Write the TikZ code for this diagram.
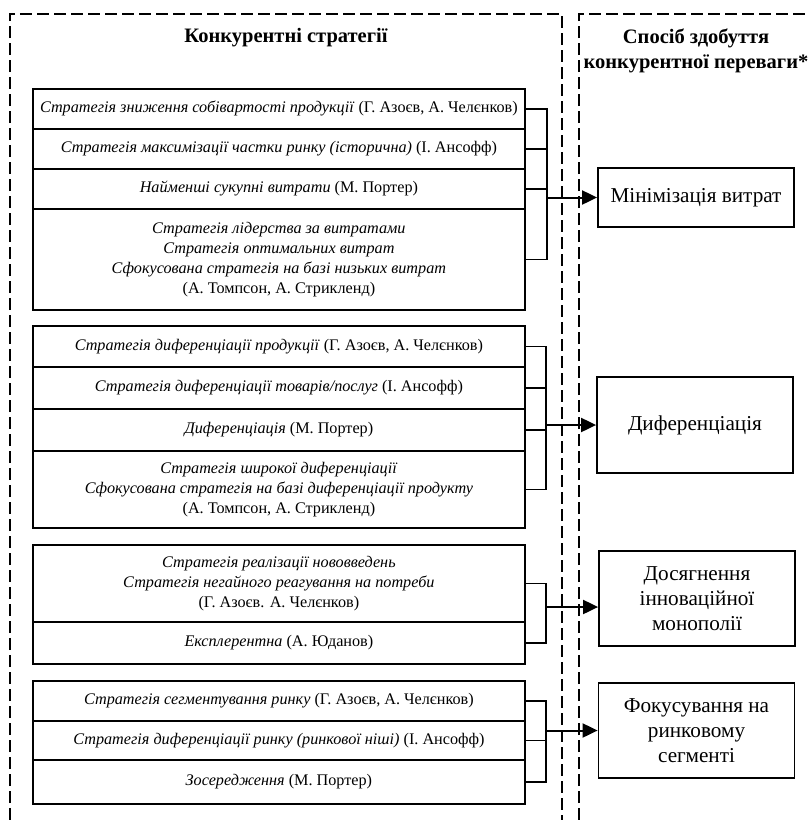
\documentclass[tikz,border=0pt]{standalone}
\usepackage{fontspec}
\setmainfont{Liberation Serif}
\usepackage{tikz}
\usetikzlibrary{positioning}
\usetikzlibrary{arrows.meta}
\usetikzlibrary{calc}
\tikzstyle{rowbox}=[draw,line width=1.8pt,rectangle,anchor=north west,minimum width=492pt,inner sep=0pt,align=center,font=\fontsize{16.2}{20}\selectfont]
\tikzstyle{goalbox}=[draw,line width=1.8pt,rectangle,minimum width=196pt,inner sep=0pt,align=center,font=\fontsize{21.2}{25}\selectfont]
\tikzstyle{title} = [font=\fontsize{20.5}{25}\selectfont\bfseries,align=center]
\tikzstyle{frameline} = [draw,line width=1.3pt,dash pattern=on 12pt off 5pt]
\tikzstyle{bracket} = [draw,line width=1.4pt]
\tikzstyle{goalarrow} = [draw,line width=2pt,-{Triangle[length=15pt,width=14pt]}]

\begin{document}
\begin{tikzpicture}[x=1pt,y=-1pt]
 \useasboundingbox (0,0) rectangle (807,820);

     % dashed frames
     \path[frameline] (10,820) -- (10,14) -- (562,14) -- (562,820);
     \path[frameline] (579,820) -- (579,14) -- (807,14);

     \node[title] (lefttitle) at (286,38) {Конкурентні стратегії};
     \node[title] (righttitle) at (696,51) {Спосіб здобуття\\конкурентної переваги*};

     % strategies
     \foreach \top/\h/\name/\label in {
        {88/40/r11/{\textit{Стратегія зниження собівартості продукції} (Г. Азоєв, А. Челєнков)}},
        {128/40/r12/{\textit{Стратегія максимізації частки ринку (історична)} (І. Ансофф)}},
        {168/40/r13/{\textit{Найменші сукупні витрати} (М. Портер)}},
        {208/101/r14/{\textit{Стратегія лідерства за витратами}\\\textit{Стратегія оптимальних витрат}\\\textit{Сфокусована стратегія на базі низьких витрат}\\(А. Томпсон, А. Стрикленд)}},
        {325/41/r21/{\textit{Стратегія диференціації продукції} (Г. Азоєв, А. Челєнков)}},
        {366/42/r22/{\textit{Стратегія диференціації товарів/послуг} (І. Ансофф)}},
        {408/42/r23/{\textit{Диференціація} (М. Портер)}},
        {450/77/r24/{\textit{Стратегія широкої диференціації}\\\textit{Сфокусована стратегія на базі диференціації продукту}\\(А. Томпсон, А. Стрикленд)}},
        {544/77/r31/{\textit{Стратегія реалізації нововведень}\\\textit{Стратегія негайного реагування на потреби}\\(Г. Азоєв. А. Челєнков)}},
        {621/42/r32/{\textit{Експлерентна} (А. Юданов)}},
        {680/40/r41/{\textit{Стратегія сегментування ринку} (Г. Азоєв, А. Челєнков)}},
        {720/39/r42/{\textit{Стратегія диференціації ринку (ринкової ніші)} (І. Ансофф)}},
        {759/44/r43/{\textit{Зосередження} (М. Портер)}}}
        \node[rowbox,minimum height=\h pt] (\name) at (32,\top) {\label};

     % ways of advantage
     \foreach \pos/\h/\name/\label in {{(696,197.5)/59/m1/{Мінімізація витрат}}, {(695,425)/96/m2/{Диференціація}}, {(697,598.5)/95/m3/{Досягнення\\інноваційної\\монополії}}, {(696.5,730.5)/95/m4/{Фокусування на\\ринковому\\сегменті}}}
        \node[goalbox,minimum height=\h pt] (\name) at \pos {\label};

     \coordinate (b1) at (547,197.5);
     \coordinate (b2) at (546,425);
     \coordinate (b3) at (546,607);
     \coordinate (b4) at (546,730.5);

  \foreach \source/ \dest in {r11/b1, r12/b1, r13/b1, r14/b1, r21/b2, r22/b2, r23/b2, r24/b2, r31/b3, r32/b3, r41/b4, r42/b4, r43/b4}
        \path[bracket] (\source.east) -| (\dest);

  \foreach \source/ \dest in {b1/m1, b2/m2, b3/m3, b4/m4}
        \path[goalarrow] (\source) -- (\source -| \dest.west);

   \end{tikzpicture}
\end{document}
